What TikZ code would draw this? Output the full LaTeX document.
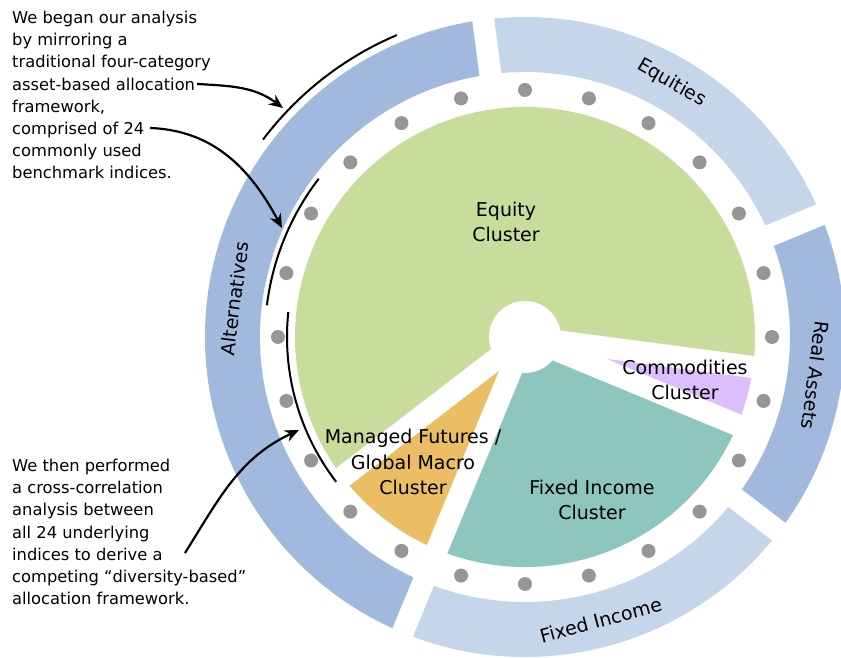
\documentclass[tikz,border=0pt]{standalone}
\usepackage{fontspec}
\setmainfont{DejaVu Sans}
\usepackage{xcolor}
\usepackage{tikz}
\usetikzlibrary{arrows.meta}
\definecolor{ringDark}{HTML}{A0B9DC}
\definecolor{ringLight}{HTML}{C5D5EA}
\definecolor{equityGreen}{HTML}{C8DC9B}
\definecolor{fixedTeal}{HTML}{8CC6BE}
\definecolor{futuresOrange}{HTML}{EBBE64}
\definecolor{commodPurple}{HTML}{DCBEFA}
\definecolor{dotGray}{HTML}{969696}
\tikzstyle{gapLine} = [draw=white, line width=22pt]
\tikzstyle{arrow} = [draw, -{Stealth[length=14pt,width=12pt]}, line width=2.2pt]
\tikzstyle{bracketArc} = [draw, line width=2pt]
\tikzstyle{note} = [anchor=north west, align=left, inner sep=0pt,
    font=\fontsize{16.3}{22.2}\selectfont]
\tikzstyle{cluster} = [align=center, inner sep=0pt,
    font=\fontsize{19}{25.5}\selectfont]
\tikzstyle{ringLabel} = [inner sep=0pt, font=\fontsize{19}{23}\selectfont]
% one band of the outer ring: colour, start angle, end angle
\newcommand{\ringBand}[3]{\fill[#1] (#2:320) arc[start angle=#2, end angle=#3, radius=320]
    -- (#3:265) arc[start angle=#3, end angle=#2, radius=265] -- cycle;}
% one slice of the pie: colour, start angle, end angle
\newcommand{\pieSlice}[3]{\fill[#1] (0,0) -- (#2:230) arc[start angle=#2, end angle=#3, radius=230] -- cycle;}

\begin{document}
\begin{tikzpicture}[x=1pt, y=1pt]
			\useasboundingbox (-525,-321) rectangle (316,337);
			% Outer ring
			\ringBand{ringLight}{22.5}{97.5}
			\ringBand{ringDark}{97.5}{247.5}
			\ringBand{ringLight}{247.5}{322.5}
			\ringBand{ringDark}{-37.5}{22.5}
			\foreach \a in {22.5,97.5,247.5,322.5}
				\path [gapLine] (\a:255) -- (\a:330);
			% Pie of clusters
			\pieSlice{equityGreen}{-7.5}{217.5}
			\pieSlice{commodPurple}{-22.5}{-7.5}
			\pieSlice{fixedTeal}{-112.5}{-22.5}
			\pieSlice{futuresOrange}{217.5}{247.5}
			\foreach \a in {-7.5,-22.5,217.5,247.5}
				\path [gapLine] (0,0) -- (\a:240);
			\node [circle, fill=white, minimum size=72pt, inner sep=0pt] (hub) at (0,0) {};
			% 24 indices
			\foreach \a in {0,15,...,345}
				\fill [dotGray] (\a:247) circle (7);
			% Place nodes
			\node [ringLabel, rotate=-30] (equitiesLabel) at (60:293) {Equities};
			\node [ringLabel, rotate=-97.5] (realAssetsLabel) at (-7.5:293) {Real Assets};
			\node [ringLabel, rotate=82.5] (alternativesLabel) at (172.5:293) {Alternatives};
			\node [ringLabel, rotate=15] (fixedIncomeLabel) at (285:293) {Fixed Income};
			\node [cluster] (equityCluster) at (-19,115) {Equity\\Cluster};
			\node [cluster] (commodCluster) at (160,-43) {Commodities\\Cluster};
			\node [cluster] (fixedCluster) at (67,-163) {Fixed Income\\Cluster};
			\node [cluster] (futuresCluster) at (-112,-125) {Managed Futures /\\Global Macro\\Cluster};
			\node [note] (beganText) at (-513,326) {We began our analysis\\by mirroring a\\traditional four-category\\asset-based allocation\\framework,\\comprised of 24\\commonly used\\benchmark indices.};
			\node [note] (thenText) at (-513,-122) {We then performed\\a cross-correlation\\analysis between\\all 24 underlying\\indices to derive a\\competing “diversity-based”\\allocation framework.};
			% Brackets and arrows
			\path [bracketArc] (113:328) arc[start angle=113, end angle=143, radius=328];
			\path [bracketArc] (142.5:260) arc[start angle=142.5, end angle=173, radius=260];
			\path [bracketArc] (174:238) arc[start angle=174, end angle=217.5, radius=238];
			\coordinate (beganArrowStart) at (-328,253);
			\coordinate (ringTip) at (-242,229);
			\coordinate (comprisedArrowStart) at (-375,209);
			\coordinate (indexTip) at (-243,109);
			\coordinate (diversityArrowStart) at (-340,-216);
			\coordinate (clusterTip) at (-226,-93);
			\path [arrow] (beganArrowStart) to[out=-3, in=143] (ringTip);
			\path [arrow] (comprisedArrowStart) to[out=-2, in=118] (indexTip);
			\path [arrow] (diversityArrowStart) to[out=58, in=205] (clusterTip);
	\end{tikzpicture}
\end{document}
